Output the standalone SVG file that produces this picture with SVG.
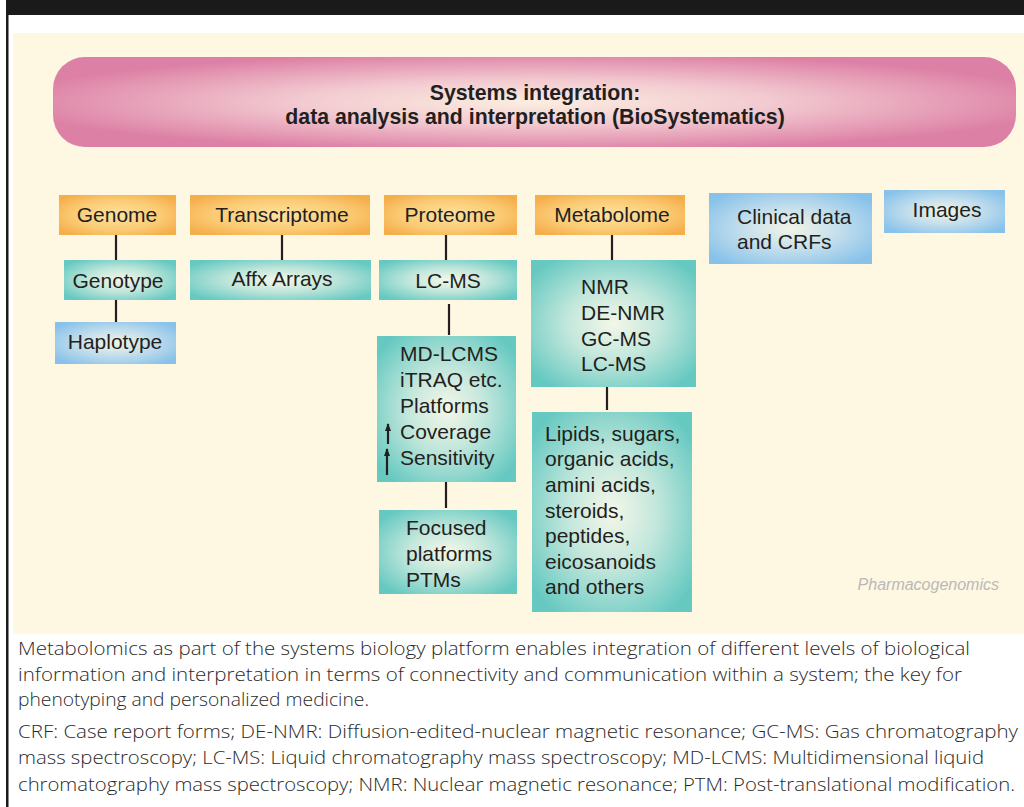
<svg xmlns="http://www.w3.org/2000/svg" width="1024" height="807" viewBox="0 0 1024 807">
<defs>
<style>
.t{font-family:"Liberation Sans",Arial,sans-serif;font-size:21px;fill:#231f20}
.c{text-anchor:middle}
.h{font-family:"Liberation Sans",Arial,sans-serif;font-size:21.3px;font-weight:bold;fill:#231f20;text-anchor:middle}
.cap{font-family:"Open Sans","Noto Sans",sans-serif;font-weight:300;font-size:19px;fill:#2a2a2a}
.ln{stroke:#231f20;stroke-width:2.2;fill:none}
.or{fill:url(#gO)}
.te{fill:url(#gT)}
.bl{fill:url(#gB)}
</style>
<radialGradient id="gO" cx="0.5" cy="0.5" r="0.62">
<stop offset="0" stop-color="#fde1a0"/>
<stop offset="0.6" stop-color="#fbcb74"/>
<stop offset="1" stop-color="#f5ae4c"/>
</radialGradient>
<radialGradient id="gT" cx="0.5" cy="0.5" r="0.62">
<stop offset="0" stop-color="#f4f7e8"/>
<stop offset="0.45" stop-color="#c3e7dc"/>
<stop offset="1" stop-color="#66c9c1"/>
</radialGradient>
<radialGradient id="gB" cx="0.5" cy="0.5" r="0.62">
<stop offset="0" stop-color="#f3f4e6"/>
<stop offset="0.45" stop-color="#c7e0ec"/>
<stop offset="1" stop-color="#88c2ea"/>
</radialGradient>
<radialGradient id="gP" cx="0.5" cy="0.5" r="0.55">
<stop offset="0" stop-color="#fbeee0"/>
<stop offset="0.45" stop-color="#f2c9d0"/>
<stop offset="1" stop-color="#dd80a5"/>
</radialGradient>
<marker id="up" viewBox="0 0 8 6" refX="7" refY="3" markerWidth="8" markerHeight="6" markerUnits="userSpaceOnUse" orient="auto">
<path d="M0,0 L8,3 L0,6 Z" fill="#231f20"/>
</marker>
</defs>
<rect x="0" y="0" width="1024" height="807" fill="#ffffff"/>
<rect x="6" y="0" width="1018" height="15" fill="#1a1a1a"/>
<rect x="6" y="15" width="2.5" height="792" fill="#1a1a1a"/>
<rect x="13" y="33" width="1011" height="601" fill="#fef7e1"/>

<g id="header">
<rect x="53" y="57" width="963" height="90" rx="32" fill="url(#gP)"/>
<text class="h" x="535" y="100">Systems integration:</text>
<text class="h" x="535" y="124">data analysis and interpretation (BioSystematics)</text>
</g>

<g id="connectors">
<line class="ln" x1="116" y1="235" x2="116" y2="260"/>
<line class="ln" x1="116" y1="300" x2="116" y2="322"/>
<line class="ln" x1="282" y1="235" x2="282" y2="260"/>
<line class="ln" x1="446" y1="235" x2="446" y2="260"/>
<line class="ln" x1="449" y1="304" x2="449" y2="335"/>
<line class="ln" x1="446" y1="482" x2="446" y2="508"/>
<line class="ln" x1="612" y1="235" x2="612" y2="260"/>
<line class="ln" x1="607" y1="387" x2="607" y2="410"/>
</g>

<g id="genome"><rect class="or" x="59" y="195" width="117" height="40"/><text class="t c" x="117" y="222">Genome</text></g>
<g id="transcriptome"><rect class="or" x="190" y="195" width="180" height="40"/><text class="t c" x="282" y="222">Transcriptome</text></g>
<g id="proteome"><rect class="or" x="384" y="195" width="133" height="40"/><text class="t c" x="450" y="222">Proteome</text></g>
<g id="metabolome"><rect class="or" x="535" y="195" width="150" height="40"/><text class="t c" x="612" y="222">Metabolome</text></g>
<g id="clinical"><rect class="bl" x="709" y="193" width="163" height="71"/><text class="t" x="737" y="224">Clinical data</text><text class="t" x="737" y="249">and CRFs</text></g>
<g id="images"><rect class="bl" x="884" y="190" width="121" height="43"/><text class="t c" x="947" y="217">Images</text></g>

<g id="genotype"><rect class="te" x="64" y="260" width="112" height="40"/><text class="t c" x="118" y="288">Genotype</text></g>
<g id="haplotype"><rect class="bl" x="55" y="322" width="121" height="42"/><text class="t c" x="115" y="349">Haplotype</text></g>
<g id="affx"><rect class="te" x="190" y="260" width="181" height="40"/><text class="t c" x="282" y="286">Affx Arrays</text></g>
<g id="lcms"><rect class="te" x="379" y="260" width="138" height="40"/><text class="t c" x="448" y="288">LC-MS</text></g>
<g id="mdlcms"><rect class="te" x="377" y="336" width="139" height="146"/>
<text class="t" x="400" y="361">MD-LCMS</text>
<text class="t" x="400" y="387">iTRAQ etc.</text>
<text class="t" x="400" y="413">Platforms</text>
<text class="t" x="400" y="439">Coverage</text>
<text class="t" x="400" y="465">Sensitivity</text>
<line class="ln" x1="388" y1="444" x2="388" y2="424" stroke-width="2" marker-end="url(#up)"/>
<line class="ln" x1="387" y1="475" x2="387" y2="449" stroke-width="2" marker-end="url(#up)"/>
</g>
<g id="focused"><rect class="te" x="379" y="510" width="138" height="84"/>
<text class="t" x="406" y="535">Focused</text>
<text class="t" x="406" y="561">platforms</text>
<text class="t" x="406" y="587">PTMs</text>
</g>
<g id="nmr"><rect class="te" x="531" y="260" width="165" height="127"/>
<text class="t" x="581" y="294">NMR</text>
<text class="t" x="581" y="320">DE-NMR</text>
<text class="t" x="581" y="346">GC-MS</text>
<text class="t" x="581" y="371">LC-MS</text>
</g>
<g id="lipids"><rect class="te" x="532" y="412" width="160" height="200"/>
<text class="t" x="545" y="441">Lipids, sugars,</text>
<text class="t" x="545" y="466">organic acids,</text>
<text class="t" x="545" y="492">amini acids,</text>
<text class="t" x="545" y="518">steroids,</text>
<text class="t" x="545" y="543">peptides,</text>
<text class="t" x="545" y="569">eicosanoids</text>
<text class="t" x="545" y="594">and others</text>
</g>

<text x="999" y="590" text-anchor="end" font-family="Liberation Sans,Arial,sans-serif" font-style="italic" font-size="16" fill="#b9b9b9">Pharmacogenomics</text>

<g id="caption">
<text class="cap" x="18" y="655" textLength="952" lengthAdjust="spacingAndGlyphs">Metabolomics as part of the systems biology platform enables integration of different levels of biological</text>
<text class="cap" x="18" y="681" textLength="944" lengthAdjust="spacingAndGlyphs">information and interpretation in terms of connectivity and communication within a system; the key for</text>
<text class="cap" x="18" y="706" textLength="351" lengthAdjust="spacingAndGlyphs">phenotyping and personalized medicine.</text>
<text class="cap" x="18" y="738" textLength="1000" lengthAdjust="spacingAndGlyphs">CRF: Case report forms; DE-NMR: Diffusion-edited-nuclear magnetic resonance; GC-MS: Gas chromatography</text>
<text class="cap" x="18" y="764" textLength="966" lengthAdjust="spacingAndGlyphs">mass spectroscopy; LC-MS: Liquid chromatography mass spectroscopy; MD-LCMS: Multidimensional liquid</text>
<text class="cap" x="18" y="791" textLength="997" lengthAdjust="spacingAndGlyphs">chromatography mass spectroscopy; NMR: Nuclear magnetic resonance; PTM: Post-translational modification.</text>
</g>
</svg>
